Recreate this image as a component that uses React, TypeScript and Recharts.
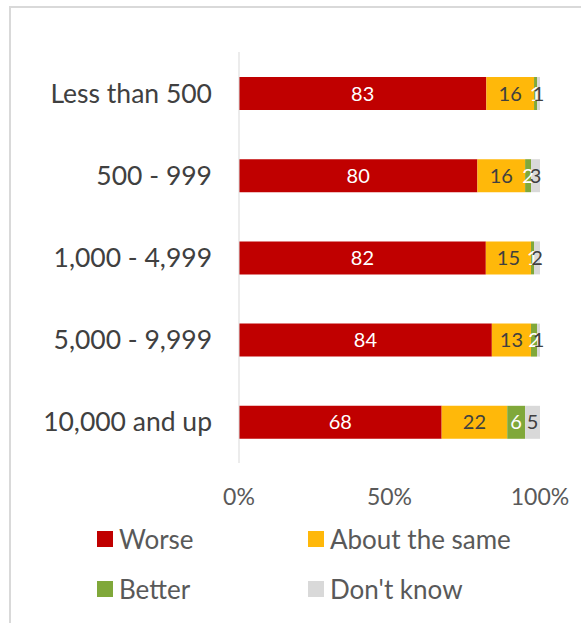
import React from "react";
import { BarChart, Bar, XAxis, YAxis, LabelList, Legend } from "recharts";

const categories = ["Less than 500", "500 - 999", "1,000 - 4,999", "5,000 - 9,999", "10,000 and up"];
const worse = [83, 80, 82, 84, 68];
const same = [16, 16, 15, 13, 22];
const better = [1, 2, 1, 2, 6];
const dontKnow = [1, 3, 2, 1, 5];
const xTicks = [0, 0.5, 1];

const data = categories.map((c, i) => ({
  name: c,
  worse: worse[i],
  same: same[i],
  better: better[i],
  dontKnow: dontKnow[i],
}));

const series = [
  { key: "worse", name: "Worse", color: "#C00000", label: "#ffffff" },
  { key: "same", name: "About the same", color: "#FFB80A", label: "#404040" },
  { key: "better", name: "Better", color: "#80A83A", label: "#ffffff" },
  { key: "dontKnow", name: "Don't know", color: "#D9D9D9", label: "#404040" },
];

const FONT = "Lato, 'Open Sans', sans-serif";

const renderLegend = (props: any) => {
  const payload = props.payload || [];
  const ordered = series
    .map((s) => payload.find((p: any) => p.value === s.name) || { value: s.name, color: s.color })
    .filter(Boolean);
  return (
    <div style={{ position: "relative", width: 581, height: 100, fontFamily: FONT }}>
      {ordered.map((p: any, i: number) => {
        const col = i % 2;
        const row = Math.floor(i / 2);
        return (
          <div
            key={i}
            style={{
              position: "absolute",
              left: col === 0 ? 97 : 308,
              top: row * 50,
              display: "flex",
              alignItems: "center",
              height: 30,
              whiteSpace: "nowrap",
            }}
          >
            <span style={{ display: "inline-block", width: 16, height: 16, background: p.color, marginRight: 6 }} />
            <span style={{ fontSize: 26, color: "#595959", lineHeight: "30px" }}>{p.value}</span>
          </div>
        );
      })}
    </div>
  );
};

export default function App() {
  return (
    <div style={{ position: "absolute", left: 0, top: 0, width: 581, height: 623, background: "#fff" }}>
      <div style={{ position: "absolute", left: 9, top: 6, width: 572, height: 617, borderLeft: "2px solid #d9d9d9", borderTop: "2px solid #d9d9d9" }} />
      <BarChart
        width={581}
        height={623}
        data={data}
        layout="vertical"
        stackOffset="expand"
        margin={{ top: 52, right: 41, bottom: 20, left: 0 }}
        style={{ position: "absolute", left: 0, top: 0 }}
      >
        <XAxis
          type="number"
          domain={[0, 1]}
          ticks={xTicks}
          tickFormatter={(v: number) => `${Math.round(v * 100)}%`}
          axisLine={false}
          tickLine={false}
          tickSize={0}
          tickMargin={26}
          height={40}
          tick={{ fill: "#595959", fontSize: 23, fontFamily: FONT }}
          interval={0}
        />
        <YAxis
          type="category"
          dataKey="name"
          width={239}
          axisLine={{ stroke: "#d9d9d9", strokeWidth: 1 }}
          tickLine={false}
          tickSize={0}
          tickMargin={27}
          tick={{ fill: "#404040", fontSize: 26.5, fontFamily: FONT }}
          interval={0}
        />
        <Legend content={renderLegend} wrapperStyle={{ position: "absolute", left: 0, top: 524, width: 581, height: 100 }} />
        {series.map((s) => (
          <Bar key={s.key} dataKey={s.key} name={s.name} stackId="a" fill={s.color} barSize={33} isAnimationActive={false}>
            <LabelList dataKey={s.key} position="center" fill={s.label} fontSize={20} fontFamily={FONT} />
          </Bar>
        ))}
      </BarChart>
    </div>
  );
}
